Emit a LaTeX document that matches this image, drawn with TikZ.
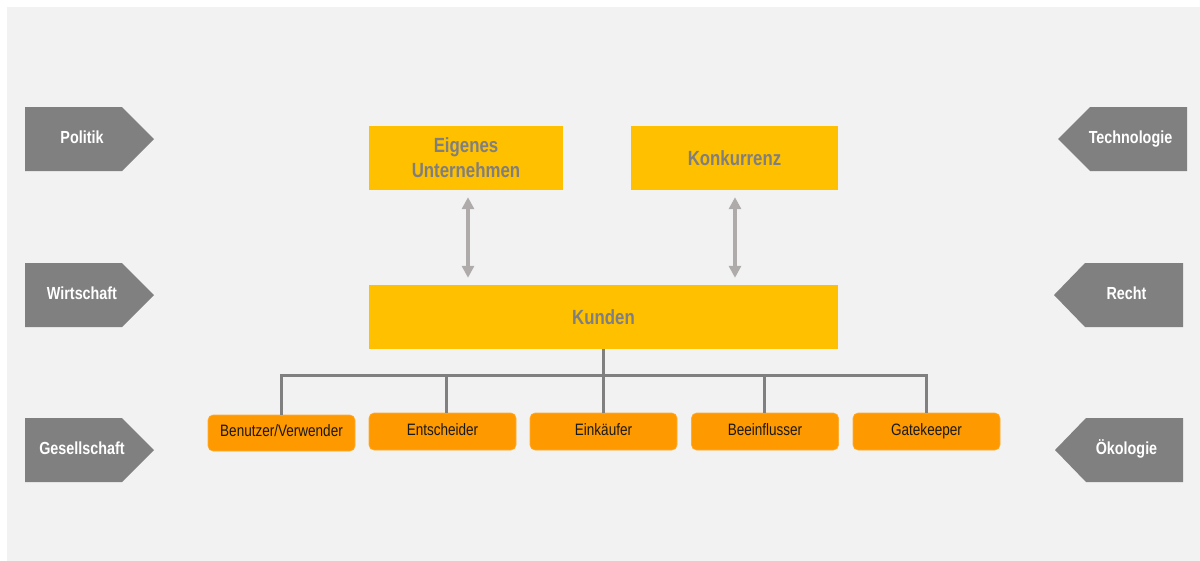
\documentclass[tikz,border=0pt]{standalone}
\usepackage{fontspec}
\setmainfont{Liberation Sans}[FakeStretch=0.82]
\usetikzlibrary{arrows.meta}
\definecolor{bgfill}{HTML}{F2F2F2}
\definecolor{factorgray}{HTML}{808080}
\definecolor{boxyellow}{HTML}{FFC000}
\definecolor{boxorange}{HTML}{FF9900}
\definecolor{labelgray}{HTML}{7F7F7F}
\definecolor{arrowgray}{HTML}{AFABAB}
\definecolor{treegray}{HTML}{808080}
\begin{document}
\begin{tikzpicture}[x=1pt,y=-1pt,
  factor/.style={fill=factorgray},
  factorlabel/.style={text=white, font=\fontsize{17.5}{20}\selectfont\bfseries, inner sep=0pt,
    text height=0.72em, text depth=-0.2em},
  mainbox/.style={fill=boxyellow, text=labelgray, inner sep=0pt, align=center,
    font=\fontsize{20.5}{25}\selectfont\bfseries},
  rolebox/.style={fill=boxorange, draw=boxorange!80!white, line width=0.6pt, rounded corners=5pt,
    minimum width=147pt, minimum height=37pt, inner sep=0pt, text=black!90,
    text height=0.72em, text depth=-0.25em,
    font=\fontsize{16.5}{19}\selectfont},
  dblarrow/.style={draw=arrowgray, line width=3.5pt,
    {Triangle[width=12pt,length=12pt]}-{Triangle[width=12pt,length=12pt]}},
  treeline/.style={draw=treegray, line width=3pt}
]
% canvas
\useasboundingbox (0,0) rectangle (1200,560);
\fill[white] (0,0) rectangle (1210,570);
\fill[bgfill] (7,7) rectangle (1210,570);

% environment factors, left side (pointing right)
\fill[factor] (25,107) -- (122,107) -- (154,139) -- (122,171) -- (25,171) -- cycle;
\fill[factor] (25,263) -- (122,263) -- (154,295) -- (122,327) -- (25,327) -- cycle;
\fill[factor] (25,418) -- (122,418) -- (154,450) -- (122,482) -- (25,482) -- cycle;
\node[factorlabel] (politik) at (82,139.5) {Politik};
\node[factorlabel] (wirtschaft) at (82,295.5) {Wirtschaft};
\node[factorlabel] (gesellschaft) at (82,450.5) {Gesellschaft};

% environment factors, right side (pointing left)
\fill[factor] (1187,107) -- (1090,107) -- (1058,139) -- (1090,171) -- (1187,171) -- cycle;
\fill[factor] (1183,263) -- (1085,263) -- (1054,295) -- (1085,327) -- (1183,327) -- cycle;
\fill[factor] (1183,418) -- (1086,418) -- (1055,450) -- (1086,482) -- (1183,482) -- cycle;
\node[factorlabel] (technologie) at (1130.5,139.5) {Technologie};
\node[factorlabel] (recht) at (1126.5,295.5) {Recht};
\node[factorlabel] (oekologie) at (1126.5,450.5) {Ökologie};

% market actors
\node[mainbox, minimum width=194pt, minimum height=64pt] (eigen) at (466,158) {Eigenes\\Unternehmen};
\node[mainbox, minimum width=207pt, minimum height=64pt] (konk) at (734.5,158) {Konkurrenz};
\node[mainbox, minimum width=469pt, minimum height=64pt] (kunden) at (603.5,317) {Kunden};

% interactions
\draw[dblarrow] ([shift={(2,7)}]eigen.south) -- ([shift={(2,-7)}]eigen.south |- kunden.north);
\draw[dblarrow] ([shift={(0.5,7)}]konk.south) -- ([shift={(0.5,-7)}]konk.south |- kunden.north);

% buying center roles
\node[rolebox, minimum height=36pt] (benutzer) at (281.5,433) {Benutzer/Verwender};
\node[rolebox] (entscheider) at (442.5,431.5) {Entscheider};
\node[rolebox] (einkaeufer) at (603.5,431.5) {Einkäufer};
\node[rolebox] (beeinflusser) at (765,431.5) {Beeinflusser};
\node[rolebox] (gatekeeper) at (926.5,431.5) {Gatekeeper};

% tree connecting customers with roles
\coordinate (bus) at (603.5,375);
\draw[treeline] (kunden.south) -- (bus);
\draw[treeline, line cap=rect] (benutzer.north |- bus) -- (gatekeeper.north |- bus);
\draw[treeline] (benutzer.north |- bus) -- (benutzer.north);
\draw[treeline] ([xshift=3.5pt]entscheider.north |- bus) -- ([xshift=3.5pt]entscheider.north);
\draw[treeline] (einkaeufer.north |- bus) -- (einkaeufer.north);
\draw[treeline] ([xshift=-1pt]beeinflusser.north |- bus) -- ([xshift=-1pt]beeinflusser.north);
\draw[treeline] (gatekeeper.north |- bus) -- (gatekeeper.north);
\end{tikzpicture}
\end{document}
